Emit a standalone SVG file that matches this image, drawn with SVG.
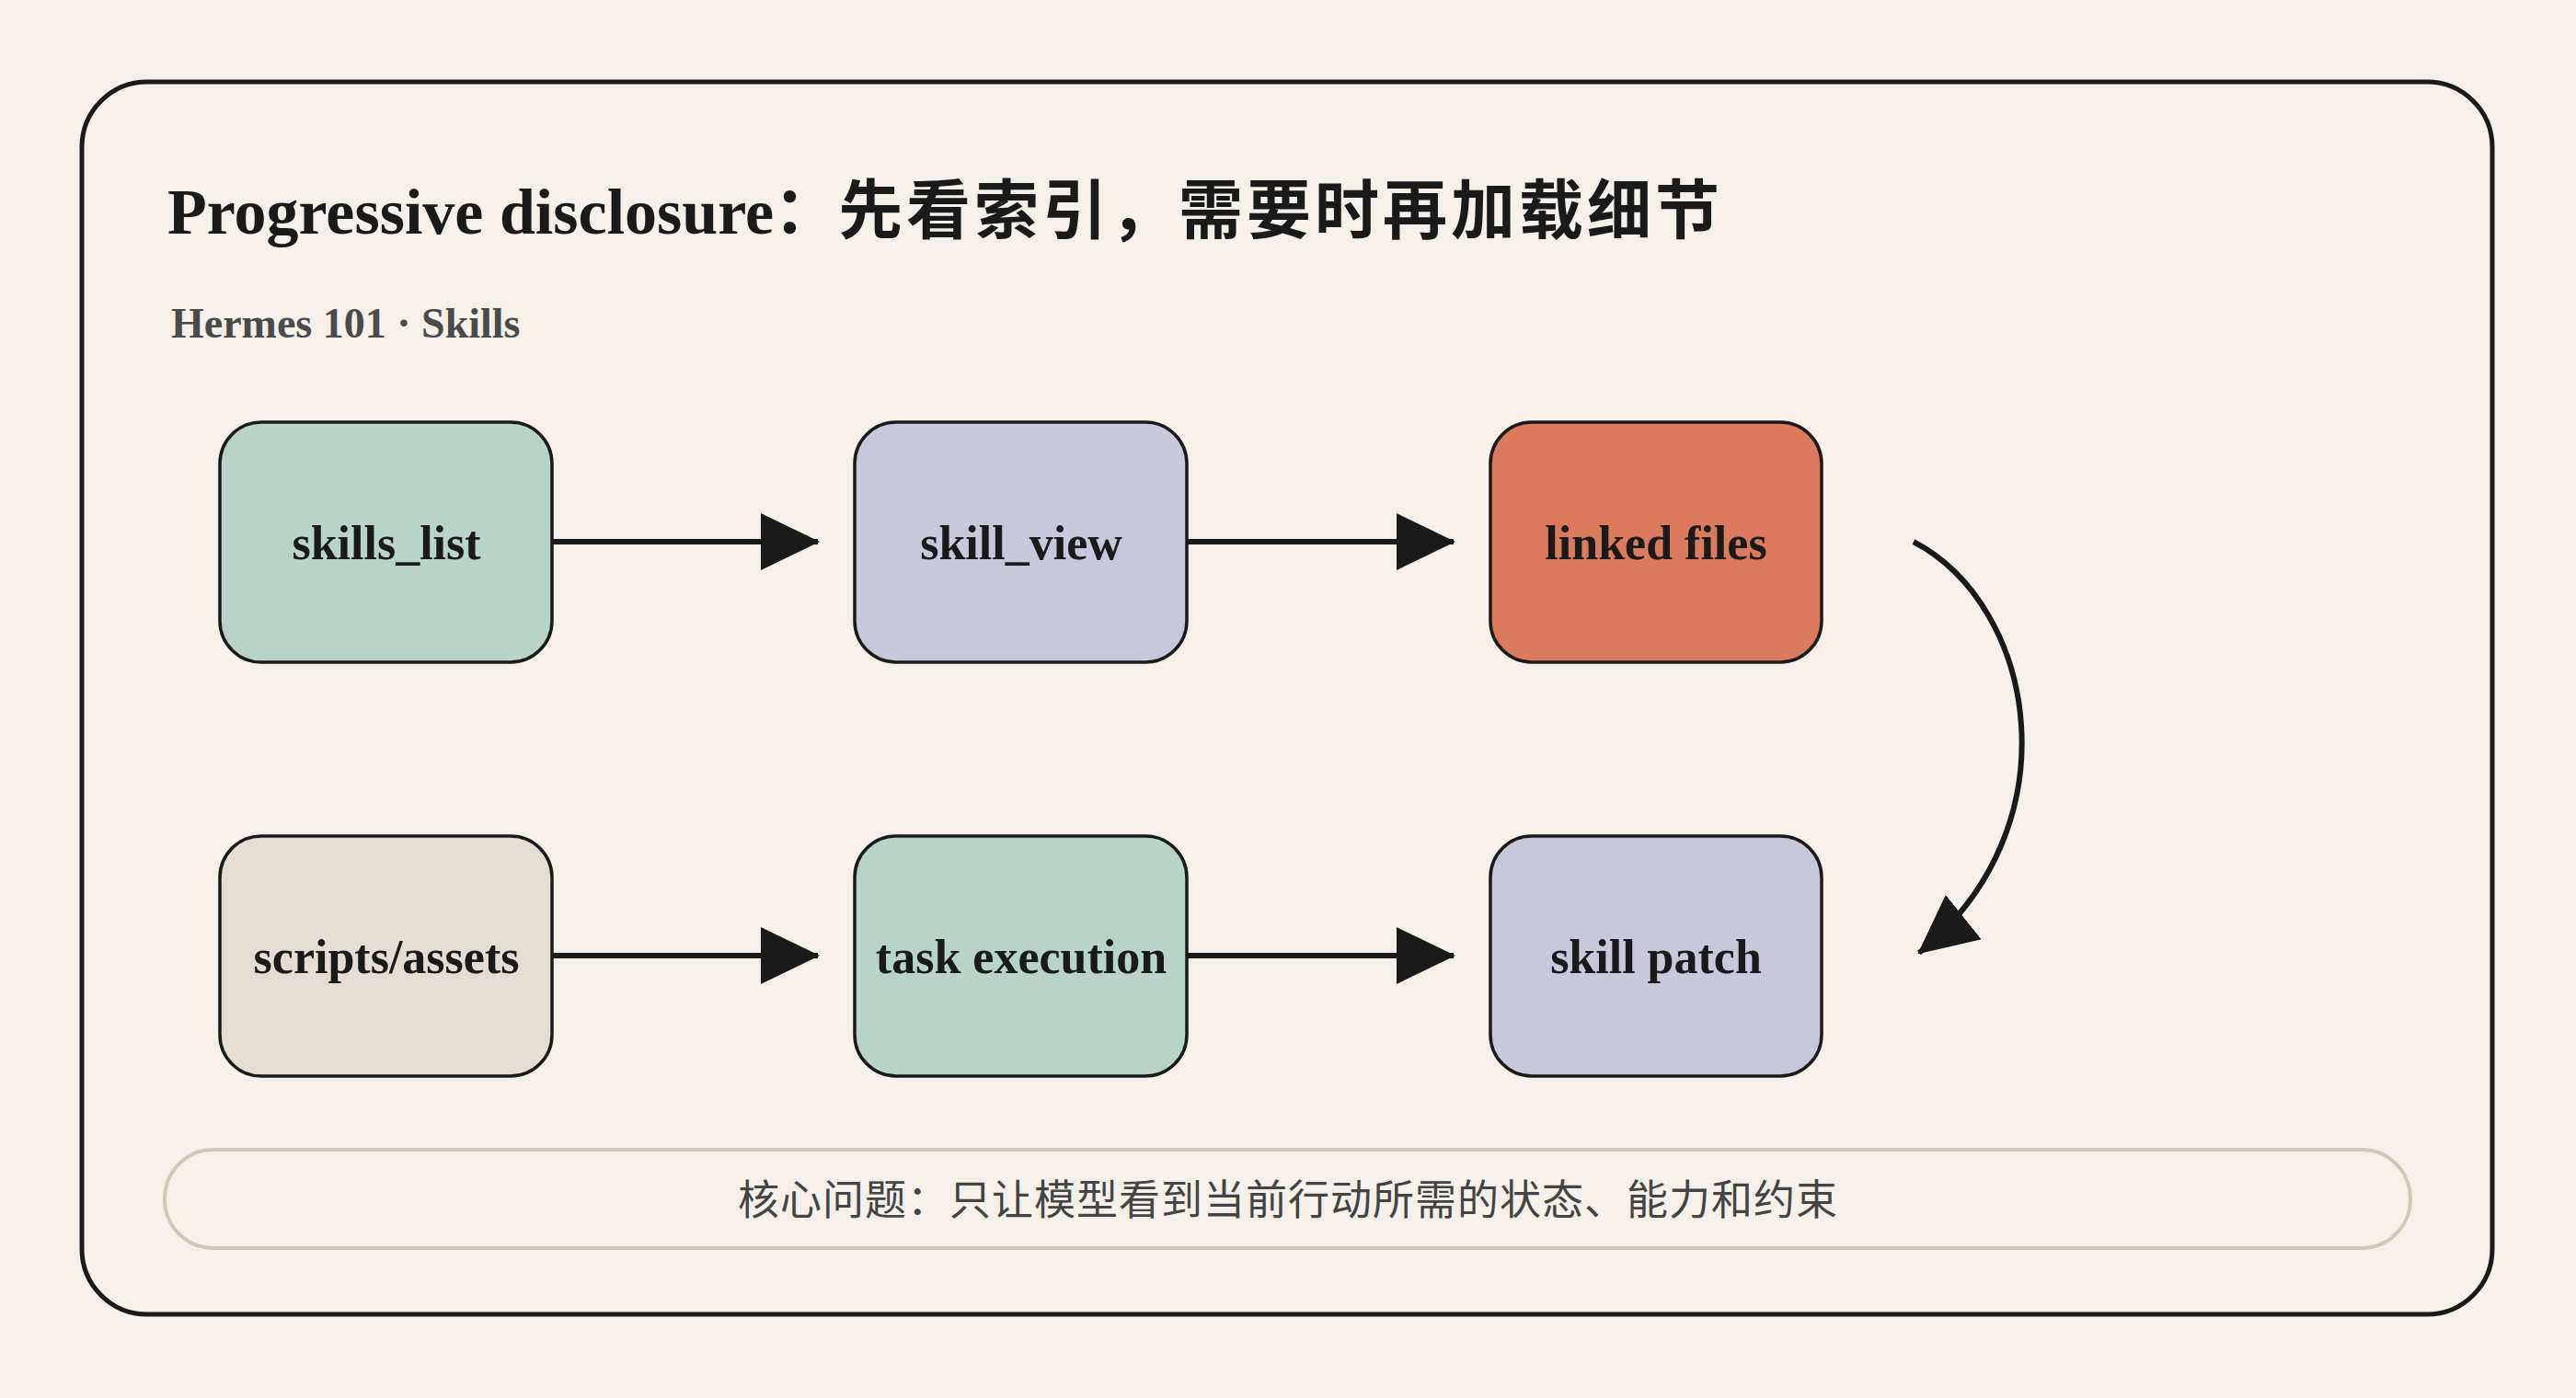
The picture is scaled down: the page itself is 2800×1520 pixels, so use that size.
<svg xmlns="http://www.w3.org/2000/svg" width="2800" height="1520" viewBox="0 0 2800 1520">
<style>
.n{stroke:#1a1a1a;stroke-width:3.5}
.t{font-family:"Liberation Serif","Noto Sans CJK SC",serif;font-weight:bold;font-size:52px;fill:#1a1a1a;text-anchor:middle;dominant-baseline:central}
.c{fill:none;stroke:#1a1a1a;stroke-width:6}
</style>
<defs>
<marker id="a" markerUnits="userSpaceOnUse" markerWidth="64" markerHeight="62" refX="62" refY="31" orient="auto">
<path d="M0 0 L64 31 L0 62 Z" fill="#1a1a1a"/>
</marker>
</defs>
<rect width="2800" height="1520" fill="#f5f1ea"/>
<rect x="89" y="89" width="2620" height="1340" rx="71" fill="#f5f1ea" stroke="#1a1a1a" stroke-width="5"/>
<text x="182" y="254" font-family="Liberation Serif,'Noto Sans CJK SC',serif" font-weight="bold" font-size="70" fill="#1a1a1a">Progressive disclosure：<tspan letter-spacing="4">先看索引，需要时再加载细节</tspan></text>
<text x="186" y="367" font-family="Liberation Serif,serif" font-weight="bold" font-size="46" fill="#4a4a4a">Hermes 101 · Skills</text>
<g id="n1"><rect class="n" x="239" y="459" width="361" height="261" rx="45" fill="#b8d4c8"/><text class="t" x="420" y="590">skills_list</text></g>
<g id="n2"><rect class="n" x="929" y="459" width="361" height="261" rx="45" fill="#c8c8dc"/><text class="t" x="1110" y="590">skill_view</text></g>
<g id="n3"><rect class="n" x="1620" y="459" width="360" height="261" rx="45" fill="#d97b5c"/><text class="t" x="1800" y="590">linked files</text></g>
<g id="n4"><rect class="n" x="239" y="909" width="361" height="261" rx="45" fill="#e3ddd3"/><text class="t" x="420" y="1040">scripts/assets</text></g>
<g id="n5"><rect class="n" x="929" y="909" width="361" height="261" rx="45" fill="#b8d4c8"/><text class="t" x="1110" y="1040">task execution</text></g>
<g id="n6"><rect class="n" x="1620" y="909" width="360" height="261" rx="45" fill="#c8c8dc"/><text class="t" x="1800" y="1040">skill patch</text></g>
<g id="connectors">
<path class="c" d="M600 589 H889" marker-end="url(#a)"/>
<path class="c" d="M1290 589 H1580" marker-end="url(#a)"/>
<path class="c" d="M600 1039 H889" marker-end="url(#a)"/>
<path class="c" d="M1290 1039 H1580" marker-end="url(#a)"/>
<path class="c" d="M2080 589 C2215 660 2255 900 2086 1036" marker-end="url(#a)"/>
</g>
<g id="note">
<rect x="179" y="1250" width="2441" height="107" rx="53" fill="#f5f1ea" stroke="#d0cbb8" stroke-width="4"/>
<text x="1400" y="1306" font-family="Liberation Serif,'Noto Sans CJK SC',serif" font-size="45" fill="#444" text-anchor="middle" dominant-baseline="central" letter-spacing="1">核心问题：只让模型看到当前行动所需的状态、能力和约束</text>
</g>
</svg>
